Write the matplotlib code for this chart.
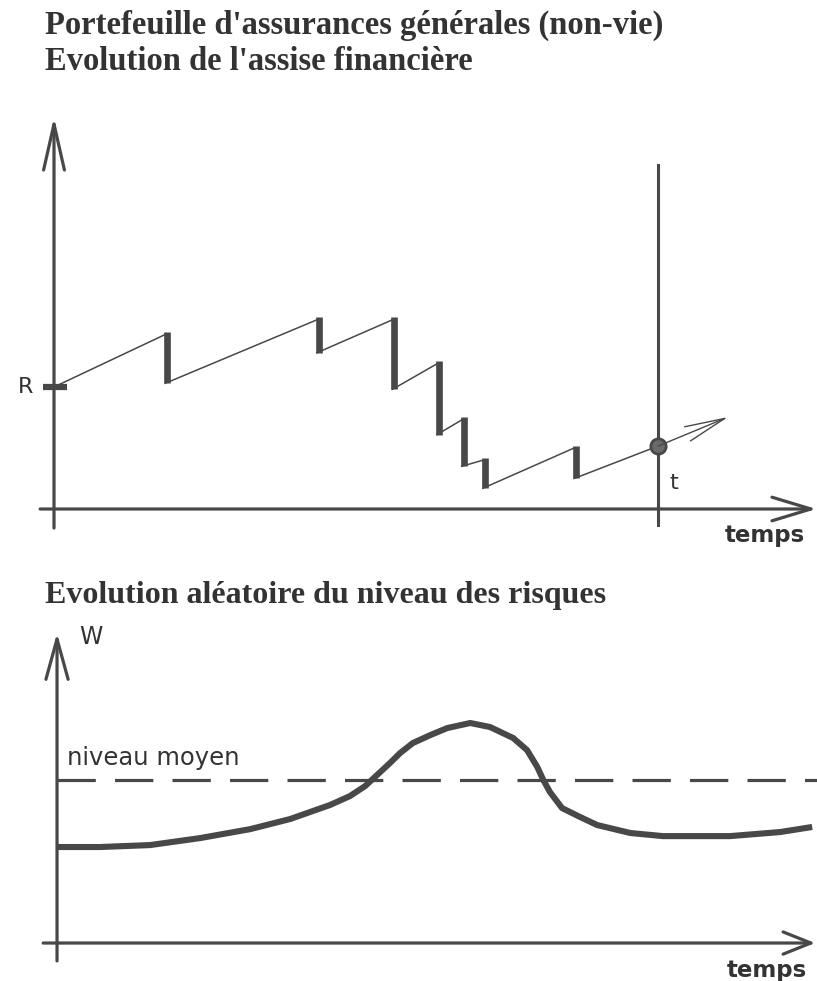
#!/usr/bin/env python
# coding: utf_8

import matplotlib
matplotlib.use("Agg")
import matplotlib.pyplot as plt

# ---- Data ----
# top chart: time units (observation time t = 100), level units (R = 1)
R_level = 1.0
claim_times = [18.4, 43.5, 56.0, 63.4, 67.5, 71.0, 86.1]
level_before = [1.43, 1.55, 1.55, 1.19, 0.73, 0.40, 0.50]
level_after = [1.03, 1.28, 0.98, 0.61, 0.35, 0.17, 0.25]
t_obs = 100.0
level_obs = 0.516
t_future = 111.6
level_future = 0.754

# bottom chart: risk level W (mean level = 1)
w_times = [0, 7.1, 15.4, 23.7, 32.0, 38.6, 45.2, 48.5, 51.0, 53.5, 55.1, 56.8,
           58.9, 61.8, 64.6, 68.4, 71.7, 75.5, 77.8, 79.5, 80.5, 81.6, 83.6,
           86.6, 89.4, 94.9, 100.3, 111.4, 119.7, 125.0]
w_values = [0.589, 0.589, 0.601, 0.644, 0.699, 0.761, 0.847, 0.902, 0.963, 1.049,
            1.104, 1.166, 1.227, 1.276, 1.319, 1.350, 1.325, 1.258, 1.184, 1.080,
            1.000, 0.926, 0.828, 0.773, 0.724, 0.675, 0.656, 0.656, 0.681, 0.712]
w_mean = 1.0

title_1 = "Portefeuille d'assurances générales (non-vie)"
title_2 = "Evolution de l'assise financière"
title_3 = "Evolution aléatoire du niveau des risques"

INK = "#484848"
TXT = "#333333"
SERIF = ["Liberation Serif", "DejaVu Serif"]
SANS = ["DejaVu Sans"]


def arrow(ax, start, tip, lw, hl, hw):
    ax.annotate("", xy=tip, xytext=start,
                arrowprops=dict(arrowstyle="->,head_length=%g,head_width=%g" % (hl, hw),
                                lw=lw, color=INK, shrinkA=0, shrinkB=0,
                                mutation_scale=10))


def plotTop(fig):
    # origin of the axes at pixel (54, 509); 6.04 px per time unit, 122 px per level unit
    ax = fig.add_axes([0, (981 - 560) / 981, 1, 460 / 981])
    ax.set_xlim(-8.94, 126.3)
    ax.set_ylim(-0.418, 3.352)
    ax.axis("off")

    # axes with open arrowheads
    arrow(ax, (0, -0.156), (0, 3.213), 2.3, 3.3, 0.75)
    arrow(ax, (-2.3, 0), (126.2, 0), 2.3, 2.8, 0.85)
    ax.plot([t_obs, t_obs], [-0.131, 2.82], color=INK, lw=2.2)

    # starting capital R
    ax.plot([-1.8, 2.1], [R_level, R_level], color=INK, lw=4.5, solid_capstyle="butt")

    # premium income (thin slopes) and claims (thick drops)
    xs = [0]
    ys = [R_level]
    for ct, lb, la in zip(claim_times, level_before, level_after):
        xs.append(ct)
        ys.append(lb)
        ax.plot(xs[-2:], ys[-2:], color=INK, lw=1.1)
        ax.plot([ct + 0.3, ct + 0.3], [lb + 0.02, la], color=INK, lw=4.8,
                solid_capstyle="butt")
        xs.append(ct)
        ys.append(la)
    ax.plot([xs[-1], t_obs], [ys[-1], level_obs], color=INK, lw=1.1)
    arrow(ax, (t_obs, level_obs), (t_future, level_future), 1.0, 2.9, 0.55)
    ax.plot([t_obs], [level_obs], "o", ms=11, mfc="#6a6a6a", mec=INK, mew=2)

    # labels
    ax.annotate("R", xy=(0, R_level), xytext=(-15, 0), textcoords="offset points",
                ha="right", va="center", fontsize=16, family=SANS, color=TXT)
    ax.annotate("t", xy=(t_obs, 0), xytext=(11, 19), textcoords="offset points",
                ha="center", va="center", fontsize=16, family=SANS, color=TXT)
    ax.annotate("temps", xy=(126.2, 0), xytext=(-8, -19), textcoords="offset points",
                ha="right", va="center", fontsize=16.5, family=SANS, weight="bold",
                color=TXT)


def plotBottom(fig):
    # origin of the axes at pixel (57, 943); 6.04 px per time unit, 163 px per W unit
    ax = fig.add_axes([0, 0, 1, 361 / 981])
    ax.set_xlim(-9.44, 125.8)
    ax.set_ylim(-0.233, 1.982)
    ax.axis("off")

    arrow(ax, (0, -0.11), (0, 1.902), 2.3, 2.9, 0.8)
    arrow(ax, (-2.3, 0), (125.5, 0), 2.3, 2.0, 0.8)

    ax.axhline(w_mean, xmin=(0 + 9.44) / 135.24, xmax=1, color=INK, lw=2.3,
               dashes=(12, 6))
    ax.plot(w_times, w_values, color=INK, lw=4.4, solid_joinstyle="round",
            solid_capstyle="butt")

    ax.annotate("W", xy=(0, 1.902), xytext=(16, -3), textcoords="offset points",
                ha="left", va="center", fontsize=17, family=SANS, color=TXT)
    ax.annotate("niveau moyen", xy=(0, w_mean), xytext=(7, 11), textcoords="offset points",
                ha="left", va="baseline", fontsize=17.5, family=SANS, color=TXT)
    ax.annotate("temps", xy=(125.5, 0), xytext=(-6, -20), textcoords="offset points",
                ha="right", va="center", fontsize=16.5, family=SANS, weight="bold",
                color=TXT)


def main():
    fig = plt.figure(figsize=(8.17, 9.81), dpi=100)
    fig.text(45 / 817, 1 - 34 / 981, title_1, fontsize=23.5, family=SERIF,
             weight="bold", color=TXT, va="baseline")
    fig.text(45 / 817, 1 - 70 / 981, title_2, fontsize=23.5, family=SERIF,
             weight="bold", color=TXT, va="baseline")
    fig.text(45 / 817, 1 - 603 / 981, title_3, fontsize=23, family=SERIF,
             weight="bold", color=TXT, va="baseline")
    plotTop(fig)
    plotBottom(fig)
    fig.savefig("out.png", dpi=100)


if __name__ == "__main__":
    main()
